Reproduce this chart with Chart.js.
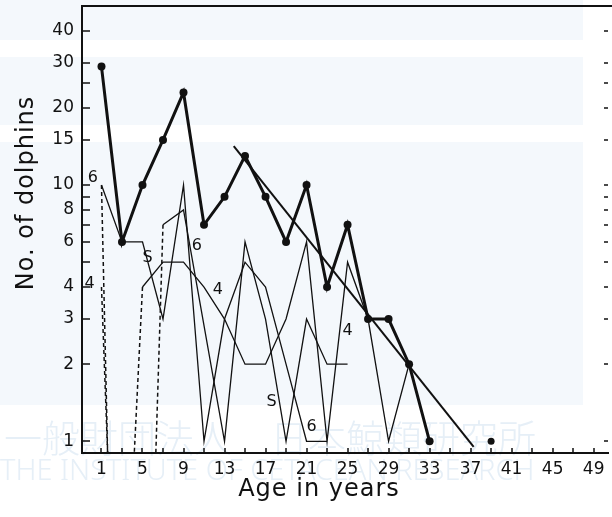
<!DOCTYPE html>
<html>
<head>
<meta charset="utf-8">
<script src="https://cdn.jsdelivr.net/npm/chart.js@4.4.0/dist/chart.umd.min.js"></script>
<style>
  html, body { margin: 0; padding: 0; background: #fff; }
</style>
</head>
<body>
<canvas id="grafico_idade" width="612" height="517"></canvas>
<script>
// age classes (odd years)
const ages = [1, 3, 5, 7, 9, 11, 13, 15, 17, 19, 21, 23, 25, 27, 29, 31, 33];
// all schools together (thick line)
const totalCount = [29, 6, 10, 15, 23, 7, 9, 13, 9, 6, 10, 4, 7, 3, 3, 2, 1];
const strayAge = [39];
const strayCount = [1];
// single schools (thin lines); age 11 of school 6 was not plotted
const schoolS = [10, 6, 6, 3, 10, 1, 3, 5, 4, 2, 1, 1, null, null, null, null, null];
const school6 = [null, null, null, 7, 8, null, 1, 6, 3, 1, 3, 2, 2, null, null, null, null];
const school4 = [null, null, 4, 5, 5, 4, 3, 2, 2, 3, 6, 1, 5, 3, 1, 2, 1];
// dashed drops to zero
const dropFromAge = [1, 1, 5, 7];
const dropFromCount = [10, 4, 4, 7];
const dropToAge = [1.6, 1.6, 4.2, 6.3];
// fitted decline
const trendAge = [13.9, 37.3];
const trendCount = [14.2, 0.95];

const xLabels = [1, 5, 9, 13, 17, 21, 25, 29, 33, 37, 41, 45, 49];
const xMarks = [1, 3, 5, 7, 9, 11, 13, 15, 17, 19, 21, 23, 25, 27, 29, 31, 33, 35, 37, 39, 41, 43, 45, 47, 49];
const yLabels = [1, 2, 3, 4, 6, 8, 10, 15, 20, 30, 40];
const yMarks = [1, 2, 3, 4, 5, 6, 7, 8, 9, 10, 15, 20, 25, 30, 40];

const yMin = 0.9;
const ink = '#111';
const haze = '#e6eff7';

const pairs = (xs, ys) => xs.map((v, i) => ({ x: v, y: ys[i] }));

const thin = (vals, span) => ({
  data: pairs(ages, vals),
  borderColor: ink, borderWidth: 1.3, pointRadius: 0, spanGaps: !!span, tension: 0
});

const dashed = dropFromAge.map((a, i) => ({
  data: [{ x: a, y: dropFromCount[i] }, { x: dropToAge[i], y: yMin }],
  borderColor: ink, borderWidth: 1.5, borderDash: [4, 3], pointRadius: 0
}));

// small letters next to the school lines
const seriesTags = [
  { t: '6', x: 0.15, y: 10.7 }, { t: '4', x: -0.15, y: 4.1 }, { t: 'S', x: 5.5, y: 5.2 },
  { t: '6', x: 10.3, y: 5.8 }, { t: '4', x: 12.35, y: 3.9 }, { t: '4', x: 25.0, y: 2.7 },
  { t: 'S', x: 17.6, y: 1.42 }, { t: '6', x: 21.5, y: 1.14 }
];

// faint stamp of the archive behind the plot
const fundo = {
  id: 'fundo',
  beforeDraw(chart) {
    const { ctx } = chart;
    ctx.save();
    ctx.fillStyle = '#f4f8fc';
    [[0, 40], [57, 125], [142, 405]].forEach(([a, b]) => ctx.fillRect(0, a, 583, b - a));
    ctx.fillStyle = haze;
    ctx.textBaseline = 'alphabetic';
    ctx.textAlign = 'left';
    ctx.font = '300 38px "Noto Sans CJK JP"';
    ctx.fillText('一般財団法人　日本鯨類研究所', 4, 452, 570);
    ctx.font = '300 29px "Noto Sans"';
    ctx.fillText('THE INSTITUTE OF CETACEAN RESEARCH', 0, 480, 590);
    ctx.restore();
  }
};

const moldura = {
  id: 'moldura',
  afterDraw(chart) {
    const { ctx, chartArea: a, scales: { x, y } } = chart;
    ctx.save();
    ctx.strokeStyle = ink;
    ctx.lineWidth = 1.5;
    ctx.beginPath();
    yMarks.forEach(v => {
      const py = Math.round(y.getPixelForValue(v));
      ctx.moveTo(a.left, py); ctx.lineTo(a.left + 8, py);
      ctx.moveTo(a.right - 4, py); ctx.lineTo(a.right, py);
    });
    xMarks.forEach(v => {
      const px = Math.round(x.getPixelForValue(v));
      ctx.moveTo(px, a.bottom); ctx.lineTo(px, a.bottom - 5);
    });
    ctx.stroke();
    ctx.lineWidth = 2;
    ctx.beginPath();
    ctx.moveTo(a.left, a.top); ctx.lineTo(chart.width, a.top);
    ctx.stroke();

    ctx.fillStyle = ink;
    ctx.font = '16px "DejaVu Sans"';
    ctx.textAlign = 'center';
    ctx.textBaseline = 'middle';
    seriesTags.forEach(s => ctx.fillText(s.t, x.getPixelForValue(s.x), y.getPixelForValue(s.y)));

    ctx.font = '24px "DejaVu Sans"';
    ctx.letterSpacing = '1px';
    ctx.fillText('Age in years', 319, 490);
    ctx.translate(27, 193);
    ctx.rotate(-Math.PI / 2);
    ctx.fillText('No. of dolphins', 0, 0);
    ctx.restore();
  }
};

const ctxIdade = document.getElementById('grafico_idade').getContext('2d');
new Chart(ctxIdade, {
  type: 'line',
  data: {
    datasets: [
      ...dashed,
      thin(schoolS),
      thin(school6, true),
      thin(school4),
      {
        data: pairs(trendAge, trendCount),
        borderColor: ink, borderWidth: 2, pointRadius: 0
      },
      {
        data: pairs(ages, totalCount),
        borderColor: ink, borderWidth: 3,
        pointRadius: 4, pointBackgroundColor: ink, pointBorderWidth: 0
      },
      {
        data: pairs(strayAge, strayCount),
        showLine: false,
        pointRadius: 3.5, pointBackgroundColor: ink, pointBorderWidth: 0
      }
    ]
  },
  options: {
    responsive: false,
    animation: false,
    devicePixelRatio: 1,
    layout: { padding: { top: 6, right: 1, left: 0, bottom: 0 } },
    plugins: { legend: { display: false }, tooltip: { enabled: false } },
    scales: {
      x: {
        type: 'linear', min: -0.9, max: 50.4,
        grid: { display: true, drawOnChartArea: false, drawTicks: false },
        border: { color: ink, width: 2 },
        ticks: { color: ink, font: { family: 'DejaVu Sans', size: 17 }, padding: 6, maxRotation: 0, callback: v => String(v) },
        afterBuildTicks: s => { s.ticks = xLabels.map(v => ({ value: v })); },
        afterFit: s => { s.height = 64; s.paddingLeft = 0; s.paddingRight = 0; }
      },
      y: {
        type: 'logarithmic', min: yMin, max: 50,
        grid: { display: true, drawOnChartArea: false, drawTicks: false },
        border: { color: ink, width: 2 },
        ticks: { color: ink, font: { family: 'DejaVu Sans', size: 17 }, padding: 8, callback: v => String(v) },
        afterBuildTicks: s => { s.ticks = yLabels.map(v => ({ value: v })); },
        afterFit: s => { s.width = 82; s.paddingTop = 0; s.paddingBottom = 0; }
      }
    }
  },
  plugins: [fundo, moldura]
});
</script>
</body>
</html>
